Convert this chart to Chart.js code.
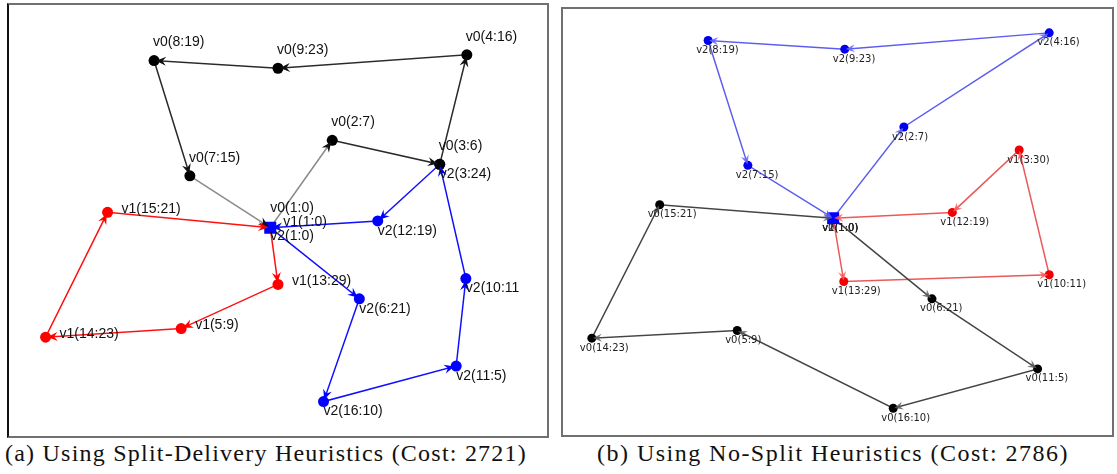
<!DOCTYPE html>
<html><head><meta charset="utf-8">
<script src="https://cdn.jsdelivr.net/npm/chart.js@4/dist/chart.umd.min.js"></script>
<style>
html,body{margin:0;padding:0;background:#fff;width:1117px;height:474px;overflow:hidden;}
.panel{position:absolute;border:2px solid #707070;box-sizing:border-box;}
#pa{left:7px;top:3px;width:542px;height:435px;border-left-color:#111;}
#pb{left:561px;top:7px;width:553px;height:430px;}
.panel canvas{display:block;}
.cap{position:absolute;top:440px;font-family:"Liberation Serif",serif;font-size:24px;white-space:nowrap;color:#111;}
</style></head><body>
<div class="panel" id="pa"><canvas id="ca" width="538" height="431"></canvas></div>
<div class="panel" id="pb"><canvas id="cb" width="549" height="426"></canvas></div>
<div class="cap" id="capA">(a) Using Split-Delivery Heuristics (Cost: 2721)</div>
<div class="cap" id="capB">(b) Using No-Split Heuristics (Cost: 2786)</div>
<script>
// ---------- Panel (a): split-delivery routes (map coordinates) ----------
const aV0Labels = ['v0(1:0)','v0(2:7)','v0(3:6)','v0(4:16)','v0(9:23)','v0(8:19)','v0(7:15)','v0(1:0)'];
const aV0X = [270,334,445,473,278,150,187,270];
const aV0Y = [228,137,162,48,62,54,174,228];
const aV1Labels = ['v1(1:0)','v1(13:29)','v1(5:9)','v1(14:23)','v1(15:21)','v1(1:0)'];
const aV1X = [270,278,178,38,102,270];
const aV1Y = [228,287,333,342,212,228];
const aV2Labels = ['v2(1:0)','v2(6:21)','v2(16:10)','v2(11:5)','v2(10:11','v2(3:24)','v2(12:19)','v2(1:0)'];
const aV2X = [270,362,325,462,472,445,381,270];
const aV2Y = [228,302,409,372,281,162,221,228];
const aDepotX = [270];
const aDepotY = [228];

// ---------- Panel (b): no-split routes ----------
const bV0Labels = ['v0(1:0)','v0(6:21)','v0(11:5)','v0(16:10)','v0(5:9)','v0(14:23)','v0(15:21)','v0(1:0)'];
const bV0X = [833,935,1044,895,734,584,654,833];
const bV0Y = [218,302,375,416,335,343,204,218];
const bV1Labels = ['v1(1:0)','v1(13:29)','v1(10:11)','v1(3:30)','v1(12:19)','v1(1:0)'];
const bV1X = [833,844,1056,1025,956,833];
const bV1Y = [218,284,277,147,212,218];
const bV2Labels = ['v2(1:0)','v2(2:7)','v2(4:16)','v2(9:23)','v2(8:19)','v2(7:15)','v2(1:0)'];
const bV2X = [833,906,1056,845,704,745,833];
const bV2Y = [218,123,25,42,33,163,218];
const bDepotX = [833];
const bDepotY = [218];

function pts(xs, ys){ return xs.map((x,i)=>({x:x, y:ys[i]})); }

const decoPlugin = {
  id:'routeDeco',
  afterDatasetsDraw(chart){
    const ctx = chart.ctx;
    chart.data.datasets.forEach((ds,i)=>{
      if(!ds.route) return;
      const p = chart.getDatasetMeta(i).data;
      ctx.save();
      ctx.fillStyle = ds.arrowColor;
      for(let k=1;k<p.length;k++){
        const a=p[k-1], b=p[k];
        const ang=Math.atan2(b.y-a.y,b.x-a.x);
        const c=Math.cos(ang), s=Math.sin(ang);
        const L=ds.arrowLen, W=ds.arrowW;
        const tx=b.x - ds.arrowBack*c, ty=b.y - ds.arrowBack*s;
        ctx.beginPath();
        ctx.moveTo(tx,ty);
        ctx.lineTo(tx - L*c + W*s, ty - L*s - W*c);
        ctx.lineTo(tx - 0.65*L*c, ty - 0.65*L*s);
        ctx.lineTo(tx - L*c - W*s, ty - L*s + W*c);
        ctx.closePath();
        ctx.fill();
      }
      ctx.restore();
    });
  },
  afterDraw(chart){
    const ctx = chart.ctx;
    chart.data.datasets.forEach((ds,i)=>{
      if(!ds.route) return;
      const p = chart.getDatasetMeta(i).data;
      ctx.save();
      ctx.font = ds.labelFont;
      ctx.fillStyle = ds.labelColor;
      ctx.textAlign='left';
      ctx.textBaseline='middle';
      for(let k=0;k<p.length-1;k++){
        const off = k===0 ? ds.depotOffset : ds.labelOffset;
        ctx.fillText(ds.labels[k], p[k].x+off[0], p[k].y+off[1]);
      }
      ctx.restore();
    });
  }
};

function routeDS(xs, ys, labels, opt){
  const n = xs.length;
  return Object.assign({
    type:'scatter',
    data: pts(xs, ys),
    labels: labels,
    route: true,
    showLine: true,
    fill:false,
    tension:0,
    borderWidth: 1.5,
    pointRadius: c => (c.dataIndex===0 || c.dataIndex===n-1) ? 0 : opt.dot,
    pointHoverRadius: 0,
    pointBorderWidth: 0,
    pointBackgroundColor: opt.dotColor,
    pointBorderColor: opt.dotColor,
    order: 2
  }, opt.ds);
}

function depotDS(xs, ys, r){
  return {
    type:'scatter',
    data: pts(xs, ys),
    pointStyle:'rect',
    pointRadius:r,
    pointBackgroundColor:'#0000ff',
    pointBorderColor:'#0000ff',
    pointBorderWidth:0,
    showLine:false,
    order:0
  };
}

function makeChart(id, datasets, xmin, xmax, ymin, ymax){
  return new Chart(document.getElementById(id), {
    type:'scatter',
    data:{datasets:datasets},
    options:{
      responsive:false,
      animation:false,
      events:[],
      layout:{padding:0},
      plugins:{legend:{display:false}, tooltip:{enabled:false}},
      scales:{
        x:{type:'linear', min:xmin, max:xmax, display:false},
        y:{type:'linear', min:ymin, max:ymax, reverse:true, display:false}
      }
    },
    plugins:[decoPlugin]
  });
}

const fontA = '14px "Liberation Sans", Arial, sans-serif';
const fontB = '10px "DejaVu Sans", Verdana, sans-serif';
const nA0 = aV0X.length;

makeChart('ca', [
  depotDS(aDepotX, aDepotY, 8.5),
  routeDS(aV0X, aV0Y, aV0Labels, {dot:5.5, dotColor:'#000', ds:{
    borderColor:'#2a2a2a',
    segment:{borderColor: c => (c.p0DataIndex===0 || c.p1DataIndex===nA0-1) ? '#8a8a8a' : '#2a2a2a'},
    arrowColor:'#111', arrowLen:10, arrowW:4.5, arrowBack:2,
    labelFont:fontA, labelColor:'#111', labelOffset:[-1,-18], depotOffset:[0,-20]}}),
  routeDS(aV1X, aV1Y, aV1Labels, {dot:5.5, dotColor:'#ff0000', ds:{
    borderColor:'#ff1010', arrowColor:'#ff0000', arrowLen:10, arrowW:4.5, arrowBack:2,
    labelFont:fontA, labelColor:'#111', labelOffset:[14,-3], depotOffset:[13,-6]}}),
  routeDS(aV2X, aV2Y, aV2Labels, {dot:5.5, dotColor:'#0000ff', ds:{
    borderColor:'#1010ff', arrowColor:'#0000ff', arrowLen:10, arrowW:4.5, arrowBack:2,
    labelFont:fontA, labelColor:'#111', labelOffset:[0,10], depotOffset:[0,8]}})
], 9, 547, 5, 436);

makeChart('cb', [
  depotDS(bDepotX, bDepotY, 8.5),
  routeDS(bV0X, bV0Y, bV0Labels, {dot:4.5, dotColor:'#000', ds:{
    borderColor:'#444', arrowColor:'rgba(90,90,90,0.8)', arrowLen:9, arrowW:4, arrowBack:1,
    labelFont:fontB, labelColor:'#222', labelOffset:[-12,10], depotOffset:[-11,10]}}),
  routeDS(bV1X, bV1Y, bV1Labels, {dot:4.5, dotColor:'#f00000', ds:{
    borderColor:'#ea5a5a', arrowColor:'rgba(255,90,90,0.85)', arrowLen:9, arrowW:4, arrowBack:1,
    labelFont:fontB, labelColor:'#222', labelOffset:[-12,10], depotOffset:[-11,10]}}),
  routeDS(bV2X, bV2Y, bV2Labels, {dot:4.5, dotColor:'#0000ee', ds:{
    borderColor:'#5c5cf0', arrowColor:'rgba(100,100,255,0.85)', arrowLen:9, arrowW:4, arrowBack:1,
    labelFont:fontB, labelColor:'#222', labelOffset:[-12,10], depotOffset:[-11,10]}})
], 563, 1112, 9, 435);

// fit captions to the measured widths in the reference
function fitCaption(id, left, width){
  const el = document.getElementById(id);
  const cv = document.createElement('canvas').getContext('2d');
  cv.font = '24px "Liberation Serif"';
  const t = el.textContent;
  const w = cv.measureText(t).width;
  el.style.letterSpacing = ((width - w) / t.length) + 'px';
  el.style.left = left + 'px';
}
fitCaption('capA', 5, 522);
fitCaption('capB', 597, 472);
</script>
</body></html>
